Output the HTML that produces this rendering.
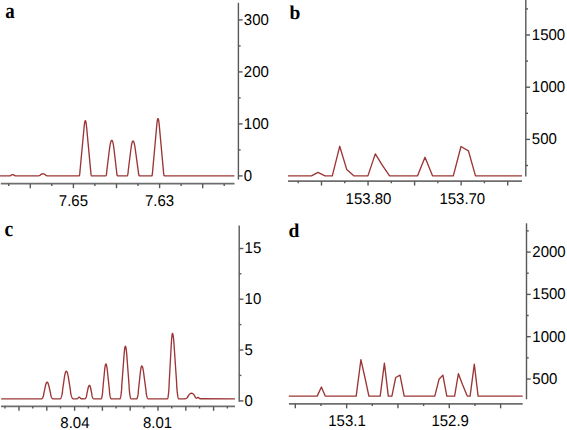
<!DOCTYPE html>
<html><head><meta charset="utf-8"><style>
html,body{margin:0;padding:0;background:#fff;}
body{width:567px;height:430px;overflow:hidden;}
svg{display:block;}
text{text-rendering:geometricPrecision;}
</style></head><body>
<svg width="567" height="430" viewBox="0 0 567 430">
<rect width="567" height="430" fill="#fff"/>
<text transform="translate(5.20,17.70) scale(0.97,1.12)" text-anchor="start" font-family="Liberation Serif" font-size="19.5" font-weight="bold" fill="#000">a</text>
<polyline points="0.00,175.85 9.40,175.85 10.00,175.78 10.60,175.61 10.80,175.53 11.00,175.30 11.60,174.94 12.00,174.77 12.40,174.67 12.80,174.65 13.20,174.71 13.60,174.84 14.40,175.30 14.60,175.53 15.20,175.74 15.80,175.84 38.00,175.85 38.60,175.80 39.20,175.66 39.80,175.44 40.20,175.24 40.40,174.89 41.20,174.31 41.80,173.98 42.40,173.80 43.00,173.75 43.60,173.84 44.20,174.05 44.80,174.38 45.60,174.94 45.80,175.27 46.40,175.53 47.00,175.72 47.60,175.82 79.20,175.85 79.40,175.58 79.60,174.77 79.80,173.40 80.00,171.03 84.00,128.22 84.20,126.15 84.40,124.39 84.60,122.96 84.80,121.87 85.00,121.11 85.20,120.69 85.40,120.61 85.60,120.86 85.80,121.45 86.00,122.37 86.20,123.63 86.40,125.22 86.60,127.15 90.80,172.10 91.00,174.15 91.20,175.24 91.40,175.78 91.60,175.85 105.60,175.85 105.80,175.84 106.00,175.63 106.20,175.14 106.40,174.36 106.60,173.30 106.80,170.94 109.20,151.28 109.40,149.66 109.60,148.17 109.80,146.80 110.00,145.57 110.20,144.46 110.40,143.49 110.60,142.64 110.80,141.93 111.00,141.34 111.20,140.89 111.40,140.56 111.60,140.37 111.80,140.30 112.00,140.37 112.20,140.59 112.40,140.95 112.60,141.46 112.80,142.11 113.00,142.91 113.20,143.86 113.40,144.94 113.60,146.18 113.80,147.56 114.00,149.08 114.20,150.75 116.60,171.52 116.80,173.78 117.00,174.76 117.20,175.43 117.40,175.79 117.60,175.85 127.00,175.85 127.20,175.85 127.40,175.65 127.60,175.15 127.80,174.36 128.00,173.26 128.20,171.01 130.80,150.04 131.00,148.47 131.20,147.05 131.40,145.78 131.60,144.66 131.80,143.69 132.00,142.87 132.20,142.20 132.40,141.67 132.60,141.30 132.80,141.07 133.00,141.00 133.20,141.06 133.40,141.25 133.60,141.56 133.80,142.00 134.00,142.56 134.20,143.25 134.40,144.07 134.60,145.00 134.80,146.07 135.00,147.26 135.20,148.57 138.40,172.16 138.60,173.99 138.80,174.83 139.00,175.42 139.20,175.76 139.40,175.85 151.80,175.85 152.00,175.69 152.20,174.99 152.40,173.72 152.60,171.41 156.60,127.05 156.80,124.86 157.00,122.95 157.20,121.38 157.40,120.16 157.60,119.30 157.80,118.77 158.00,118.60 158.20,118.77 158.40,119.27 158.60,120.11 158.80,121.29 159.00,122.80 159.20,124.65 163.40,170.40 163.60,172.92 163.80,174.44 164.00,175.41 164.20,175.83 234.40,175.85" fill="none" stroke="#9c3636" stroke-width="1.35" stroke-linejoin="round"/>
<line x1="0.80" y1="183.70" x2="234.50" y2="183.70" stroke="#6e6e6e" stroke-width="1.7"/>
<line x1="30.30" y1="183.70" x2="30.30" y2="188.20" stroke="#585858" stroke-width="1.4"/>
<line x1="73.40" y1="183.70" x2="73.40" y2="188.20" stroke="#585858" stroke-width="1.4"/>
<line x1="116.50" y1="183.70" x2="116.50" y2="188.20" stroke="#585858" stroke-width="1.4"/>
<line x1="159.60" y1="183.70" x2="159.60" y2="188.20" stroke="#585858" stroke-width="1.4"/>
<line x1="202.70" y1="183.70" x2="202.70" y2="188.20" stroke="#585858" stroke-width="1.4"/>
<line x1="8.70" y1="183.70" x2="8.70" y2="185.90" stroke="#585858" stroke-width="1.4"/>
<line x1="51.80" y1="183.70" x2="51.80" y2="185.90" stroke="#585858" stroke-width="1.4"/>
<line x1="94.90" y1="183.70" x2="94.90" y2="185.90" stroke="#585858" stroke-width="1.4"/>
<line x1="138.00" y1="183.70" x2="138.00" y2="185.90" stroke="#585858" stroke-width="1.4"/>
<line x1="181.10" y1="183.70" x2="181.10" y2="185.90" stroke="#585858" stroke-width="1.4"/>
<line x1="224.20" y1="183.70" x2="224.20" y2="185.90" stroke="#585858" stroke-width="1.4"/>
<text transform="translate(73.40,205.60) scale(0.96,1)" text-anchor="middle" font-family="Liberation Sans" font-size="15.6" font-weight="normal" fill="#000">7.65</text>
<text transform="translate(159.60,205.60) scale(0.96,1)" text-anchor="middle" font-family="Liberation Sans" font-size="15.6" font-weight="normal" fill="#000">7.63</text>
<line x1="238.40" y1="2.80" x2="238.40" y2="179.60" stroke="#585858" stroke-width="1.4"/>
<line x1="238.40" y1="175.90" x2="242.60" y2="175.90" stroke="#585858" stroke-width="1.4"/>
<line x1="238.40" y1="123.90" x2="242.60" y2="123.90" stroke="#585858" stroke-width="1.4"/>
<line x1="238.40" y1="71.90" x2="242.60" y2="71.90" stroke="#585858" stroke-width="1.4"/>
<line x1="238.40" y1="19.90" x2="242.60" y2="19.90" stroke="#585858" stroke-width="1.4"/>
<line x1="238.40" y1="149.90" x2="240.60" y2="149.90" stroke="#585858" stroke-width="1.4"/>
<line x1="238.40" y1="97.90" x2="240.60" y2="97.90" stroke="#585858" stroke-width="1.4"/>
<line x1="238.40" y1="45.90" x2="240.60" y2="45.90" stroke="#585858" stroke-width="1.4"/>
<text transform="translate(243.80,180.70) scale(0.96,1)" text-anchor="start" font-family="Liberation Sans" font-size="15.6" font-weight="normal" fill="#000">0</text>
<text transform="translate(243.80,128.70) scale(0.96,1)" text-anchor="start" font-family="Liberation Sans" font-size="15.6" font-weight="normal" fill="#000">100</text>
<text transform="translate(243.80,76.70) scale(0.96,1)" text-anchor="start" font-family="Liberation Sans" font-size="15.6" font-weight="normal" fill="#000">200</text>
<text transform="translate(243.80,24.70) scale(0.96,1)" text-anchor="start" font-family="Liberation Sans" font-size="15.6" font-weight="normal" fill="#000">300</text>
<text transform="translate(289.60,19.40) scale(1.0,1)" text-anchor="start" font-family="Liberation Serif" font-size="19.5" font-weight="bold" fill="#000">b</text>
<polyline points="288.00,175.85 311.50,175.85 318.00,172.40 325.00,175.85 332.30,175.85 339.70,146.30 346.70,169.40 353.80,175.85 367.90,175.85 375.30,153.90 382.40,165.40 389.60,175.85 417.60,175.85 425.00,157.30 432.50,175.85 453.30,175.85 461.00,146.50 468.40,150.80 475.50,175.85 522.00,175.85" fill="none" stroke="#9c3636" stroke-width="1.35" stroke-linejoin="round"/>
<line x1="288.00" y1="181.10" x2="522.00" y2="181.10" stroke="#6e6e6e" stroke-width="1.7"/>
<line x1="321.50" y1="181.10" x2="321.50" y2="185.60" stroke="#585858" stroke-width="1.4"/>
<line x1="368.05" y1="181.10" x2="368.05" y2="185.60" stroke="#585858" stroke-width="1.4"/>
<line x1="414.60" y1="181.10" x2="414.60" y2="185.60" stroke="#585858" stroke-width="1.4"/>
<line x1="461.15" y1="181.10" x2="461.15" y2="185.60" stroke="#585858" stroke-width="1.4"/>
<line x1="507.70" y1="181.10" x2="507.70" y2="185.60" stroke="#585858" stroke-width="1.4"/>
<line x1="298.20" y1="181.10" x2="298.20" y2="183.30" stroke="#585858" stroke-width="1.4"/>
<line x1="344.75" y1="181.10" x2="344.75" y2="183.30" stroke="#585858" stroke-width="1.4"/>
<line x1="391.30" y1="181.10" x2="391.30" y2="183.30" stroke="#585858" stroke-width="1.4"/>
<line x1="437.85" y1="181.10" x2="437.85" y2="183.30" stroke="#585858" stroke-width="1.4"/>
<line x1="484.40" y1="181.10" x2="484.40" y2="183.30" stroke="#585858" stroke-width="1.4"/>
<text transform="translate(368.50,204.20) scale(0.96,1)" text-anchor="middle" font-family="Liberation Sans" font-size="15.6" font-weight="normal" fill="#000">153.80</text>
<text transform="translate(462.30,204.20) scale(0.96,1)" text-anchor="middle" font-family="Liberation Sans" font-size="15.6" font-weight="normal" fill="#000">153.70</text>
<line x1="525.80" y1="0.00" x2="525.80" y2="176.60" stroke="#585858" stroke-width="1.4"/>
<line x1="525.80" y1="139.40" x2="530.00" y2="139.40" stroke="#585858" stroke-width="1.4"/>
<line x1="525.80" y1="87.20" x2="530.00" y2="87.20" stroke="#585858" stroke-width="1.4"/>
<line x1="525.80" y1="35.00" x2="530.00" y2="35.00" stroke="#585858" stroke-width="1.4"/>
<line x1="525.80" y1="165.50" x2="528.00" y2="165.50" stroke="#585858" stroke-width="1.4"/>
<line x1="525.80" y1="113.30" x2="528.00" y2="113.30" stroke="#585858" stroke-width="1.4"/>
<line x1="525.80" y1="61.10" x2="528.00" y2="61.10" stroke="#585858" stroke-width="1.4"/>
<line x1="525.80" y1="8.90" x2="528.00" y2="8.90" stroke="#585858" stroke-width="1.4"/>
<text transform="translate(531.80,144.20) scale(0.96,1)" text-anchor="start" font-family="Liberation Sans" font-size="15.6" font-weight="normal" fill="#000">500</text>
<text transform="translate(531.80,92.00) scale(0.96,1)" text-anchor="start" font-family="Liberation Sans" font-size="15.6" font-weight="normal" fill="#000">1000</text>
<text transform="translate(531.80,39.80) scale(0.96,1)" text-anchor="start" font-family="Liberation Sans" font-size="15.6" font-weight="normal" fill="#000">1500</text>
<text transform="translate(4.60,235.80) scale(1.0,1.12)" text-anchor="start" font-family="Liberation Serif" font-size="19.5" font-weight="bold" fill="#000">c</text>
<polyline points="1.20,398.80 41.60,398.80 41.80,398.77 42.00,398.66 42.20,398.49 42.40,398.25 42.60,397.94 42.80,397.57 43.00,397.12 43.20,396.60 43.40,396.02 43.60,395.37 43.80,393.61 45.40,386.07 45.60,385.21 45.80,384.46 46.00,383.82 46.20,383.29 46.40,382.86 46.60,382.53 46.80,382.32 47.00,382.21 47.20,382.21 47.40,382.31 47.60,382.49 47.80,382.78 48.00,383.15 48.20,383.62 48.40,384.18 48.60,384.84 48.80,385.59 50.60,393.50 50.80,395.25 51.00,395.87 51.20,396.43 51.40,396.94 51.60,397.38 51.80,397.76 52.00,398.09 52.20,398.35 52.40,398.55 52.60,398.69 52.80,398.78 60.00,398.80 60.20,398.78 60.40,398.66 60.60,398.47 60.80,398.18 61.00,397.80 61.20,397.34 61.40,396.79 61.60,396.15 61.80,395.42 62.00,394.60 62.20,393.70 62.40,392.70 62.60,389.83 64.20,378.79 64.40,377.43 64.60,376.19 64.80,375.08 65.00,374.12 65.20,373.29 65.40,372.60 65.60,372.05 65.80,371.63 66.00,371.36 66.20,371.22 66.40,371.21 66.60,371.33 66.80,371.56 67.00,371.90 67.20,372.35 67.40,372.93 67.60,373.61 67.80,374.41 68.00,375.32 68.20,376.35 68.40,377.49 70.40,390.02 70.60,392.75 70.80,393.65 71.00,394.48 71.20,395.24 71.40,395.93 71.60,396.54 71.80,397.08 72.00,397.54 72.20,397.93 72.40,398.25 72.60,398.50 72.80,398.67 73.00,398.77 76.80,398.80 77.20,398.75 77.60,398.57 77.80,398.44 78.00,398.09 78.40,397.62 78.60,397.44 78.80,397.31 79.00,397.23 79.20,397.20 79.40,397.23 79.60,397.31 79.80,397.44 80.20,397.85 80.40,398.09 80.60,398.44 81.00,398.68 81.40,398.79 84.80,398.80 85.00,398.79 85.20,398.71 85.40,398.54 85.60,398.29 85.80,397.96 86.00,397.55 86.20,397.05 86.40,396.47 86.60,395.81 86.80,394.15 88.00,388.57 88.20,387.73 88.40,387.02 88.60,386.43 88.80,385.98 89.00,385.66 89.20,385.46 89.40,385.40 89.60,385.47 89.80,385.69 90.00,386.05 90.20,386.56 90.40,387.21 90.60,388.01 91.80,393.87 92.00,395.64 92.20,396.36 92.40,396.99 92.60,397.52 92.80,397.96 93.00,398.31 93.20,398.57 93.40,398.73 93.60,398.80 101.00,398.80 101.20,398.77 101.40,398.56 101.60,398.12 101.80,397.47 102.00,396.60 102.20,395.51 102.40,394.21 102.60,392.68 102.80,389.31 104.40,372.44 104.60,370.36 104.80,368.56 105.00,367.05 105.20,365.85 105.40,364.94 105.60,364.34 105.80,364.04 106.00,364.03 106.20,364.28 106.40,364.78 106.60,365.53 106.80,366.52 107.00,367.77 107.20,369.26 107.40,371.00 109.40,390.17 109.60,393.19 109.80,394.52 110.00,395.67 110.20,396.64 110.40,397.43 110.60,398.04 110.80,398.48 111.00,398.73 111.20,398.80 119.80,398.80 120.00,398.76 120.20,398.48 120.40,397.96 120.60,397.19 120.80,396.17 121.00,394.90 121.20,393.39 121.40,391.62 121.60,389.61 121.80,385.35 124.00,355.75 124.20,353.22 124.40,351.07 124.60,349.32 124.80,347.95 125.00,346.98 125.20,346.39 125.40,346.20 125.60,346.39 125.80,346.95 126.00,347.88 126.20,349.19 126.40,350.87 126.60,352.92 126.80,355.35 129.00,384.32 129.20,388.72 129.40,390.79 129.60,392.63 129.80,394.22 130.00,395.58 130.20,396.70 130.40,397.58 130.60,398.22 130.80,398.63 131.00,398.80 136.60,398.80 136.80,398.74 137.00,398.51 137.20,398.10 137.40,397.52 137.60,396.76 137.80,395.82 138.00,394.70 138.20,393.40 138.40,390.48 140.20,373.84 140.40,372.02 140.60,370.42 140.80,369.07 141.00,367.97 141.20,367.11 141.40,366.49 141.60,366.12 141.80,366.00 142.00,366.08 142.20,366.32 142.40,366.73 142.60,367.29 142.80,368.02 143.00,368.91 143.20,369.96 143.40,371.18 143.60,372.55 146.00,390.55 146.20,393.19 146.40,394.28 146.60,395.25 146.80,396.10 147.00,396.84 147.20,397.45 147.40,397.96 147.60,398.34 147.80,398.61 148.00,398.76 167.40,398.80 167.60,398.71 167.80,398.26 168.00,397.45 168.20,396.26 168.40,394.71 168.60,392.78 168.80,390.48 169.00,387.81 169.20,382.31 171.20,345.67 171.40,342.20 171.60,339.29 171.80,336.96 172.00,335.22 172.20,334.05 172.40,333.47 172.60,333.45 172.80,333.83 173.00,334.59 173.20,335.72 173.40,337.24 173.60,339.14 173.80,341.41 174.00,344.07 176.60,382.52 176.80,387.42 177.00,389.65 177.20,391.63 177.40,393.37 177.60,394.87 177.80,396.13 178.00,397.14 178.20,397.92 178.40,398.45 178.60,398.74 178.80,398.80 184.40,398.80 185.00,398.75 185.60,398.60 186.20,398.33 186.80,397.95 187.40,397.46 187.60,397.27 187.80,396.49 189.00,394.87 189.40,394.39 189.80,394.00 190.20,393.68 190.60,393.45 191.00,393.29 191.40,393.21 191.80,393.21 192.20,393.31 192.60,393.50 193.00,393.79 193.40,394.17 193.80,394.65 195.00,396.41 195.20,397.23 195.80,397.81 196.20,398.11 196.40,398.20 196.60,398.22 196.80,398.19 197.40,397.66 197.60,397.51 197.80,397.42 198.00,397.40 198.20,397.43 198.40,397.51 198.80,397.83 199.20,398.22 199.40,398.48 199.80,398.69 200.20,398.79 235.00,398.80" fill="none" stroke="#9c3636" stroke-width="1.35" stroke-linejoin="round"/>
<line x1="1.00" y1="406.30" x2="235.00" y2="406.30" stroke="#6e6e6e" stroke-width="1.7"/>
<line x1="19.00" y1="406.30" x2="19.00" y2="410.80" stroke="#585858" stroke-width="1.4"/>
<line x1="46.80" y1="406.30" x2="46.80" y2="410.80" stroke="#585858" stroke-width="1.4"/>
<line x1="74.60" y1="406.30" x2="74.60" y2="410.80" stroke="#585858" stroke-width="1.4"/>
<line x1="102.40" y1="406.30" x2="102.40" y2="410.80" stroke="#585858" stroke-width="1.4"/>
<line x1="130.20" y1="406.30" x2="130.20" y2="410.80" stroke="#585858" stroke-width="1.4"/>
<line x1="158.00" y1="406.30" x2="158.00" y2="410.80" stroke="#585858" stroke-width="1.4"/>
<line x1="185.80" y1="406.30" x2="185.80" y2="410.80" stroke="#585858" stroke-width="1.4"/>
<line x1="213.60" y1="406.30" x2="213.60" y2="410.80" stroke="#585858" stroke-width="1.4"/>
<line x1="4.95" y1="406.30" x2="4.95" y2="408.50" stroke="#585858" stroke-width="1.4"/>
<line x1="32.75" y1="406.30" x2="32.75" y2="408.50" stroke="#585858" stroke-width="1.4"/>
<line x1="60.55" y1="406.30" x2="60.55" y2="408.50" stroke="#585858" stroke-width="1.4"/>
<line x1="88.35" y1="406.30" x2="88.35" y2="408.50" stroke="#585858" stroke-width="1.4"/>
<line x1="116.15" y1="406.30" x2="116.15" y2="408.50" stroke="#585858" stroke-width="1.4"/>
<line x1="143.95" y1="406.30" x2="143.95" y2="408.50" stroke="#585858" stroke-width="1.4"/>
<line x1="171.75" y1="406.30" x2="171.75" y2="408.50" stroke="#585858" stroke-width="1.4"/>
<line x1="199.55" y1="406.30" x2="199.55" y2="408.50" stroke="#585858" stroke-width="1.4"/>
<line x1="227.35" y1="406.30" x2="227.35" y2="408.50" stroke="#585858" stroke-width="1.4"/>
<text transform="translate(74.90,428.40) scale(0.96,1)" text-anchor="middle" font-family="Liberation Sans" font-size="15.6" font-weight="normal" fill="#000">8.04</text>
<text transform="translate(157.60,428.40) scale(0.96,1)" text-anchor="middle" font-family="Liberation Sans" font-size="15.6" font-weight="normal" fill="#000">8.01</text>
<line x1="239.20" y1="225.60" x2="239.20" y2="401.70" stroke="#585858" stroke-width="1.4"/>
<line x1="239.20" y1="400.90" x2="243.40" y2="400.90" stroke="#585858" stroke-width="1.4"/>
<line x1="239.20" y1="350.00" x2="243.40" y2="350.00" stroke="#585858" stroke-width="1.4"/>
<line x1="239.20" y1="299.20" x2="243.40" y2="299.20" stroke="#585858" stroke-width="1.4"/>
<line x1="239.20" y1="248.50" x2="243.40" y2="248.50" stroke="#585858" stroke-width="1.4"/>
<line x1="239.20" y1="375.40" x2="241.40" y2="375.40" stroke="#585858" stroke-width="1.4"/>
<line x1="239.20" y1="324.60" x2="241.40" y2="324.60" stroke="#585858" stroke-width="1.4"/>
<line x1="239.20" y1="273.80" x2="241.40" y2="273.80" stroke="#585858" stroke-width="1.4"/>
<text transform="translate(244.60,405.70) scale(0.96,1)" text-anchor="start" font-family="Liberation Sans" font-size="15.6" font-weight="normal" fill="#000">0</text>
<text transform="translate(244.60,354.80) scale(0.96,1)" text-anchor="start" font-family="Liberation Sans" font-size="15.6" font-weight="normal" fill="#000">5</text>
<text transform="translate(244.60,304.00) scale(0.96,1)" text-anchor="start" font-family="Liberation Sans" font-size="15.6" font-weight="normal" fill="#000">10</text>
<text transform="translate(244.60,253.30) scale(0.96,1)" text-anchor="start" font-family="Liberation Sans" font-size="15.6" font-weight="normal" fill="#000">15</text>
<text transform="translate(288.40,236.60) scale(1.0,1)" text-anchor="start" font-family="Liberation Serif" font-size="19.5" font-weight="bold" fill="#000">d</text>
<polyline points="288.80,396.10 317.20,396.10 321.40,387.00 325.20,396.10 356.20,396.10 360.90,359.60 364.70,376.50 368.90,396.10 380.20,396.10 384.40,363.10 388.30,396.10 391.90,396.10 395.70,377.50 400.00,375.10 404.20,396.10 434.80,396.10 439.00,379.30 442.90,375.10 446.80,396.10 454.60,396.10 458.40,373.70 462.50,384.50 466.60,394.40 467.30,396.10 470.10,396.10 474.30,364.10 478.10,396.10 522.70,396.10" fill="none" stroke="#9c3636" stroke-width="1.35" stroke-linejoin="round"/>
<line x1="289.00" y1="403.85" x2="522.70" y2="403.85" stroke="#6e6e6e" stroke-width="1.7"/>
<line x1="295.30" y1="403.85" x2="295.30" y2="408.35" stroke="#585858" stroke-width="1.4"/>
<line x1="346.63" y1="403.85" x2="346.63" y2="408.35" stroke="#585858" stroke-width="1.4"/>
<line x1="397.96" y1="403.85" x2="397.96" y2="408.35" stroke="#585858" stroke-width="1.4"/>
<line x1="449.29" y1="403.85" x2="449.29" y2="408.35" stroke="#585858" stroke-width="1.4"/>
<line x1="500.62" y1="403.85" x2="500.62" y2="408.35" stroke="#585858" stroke-width="1.4"/>
<line x1="320.95" y1="403.85" x2="320.95" y2="406.05" stroke="#585858" stroke-width="1.4"/>
<line x1="372.28" y1="403.85" x2="372.28" y2="406.05" stroke="#585858" stroke-width="1.4"/>
<line x1="423.61" y1="403.85" x2="423.61" y2="406.05" stroke="#585858" stroke-width="1.4"/>
<line x1="474.94" y1="403.85" x2="474.94" y2="406.05" stroke="#585858" stroke-width="1.4"/>
<text transform="translate(347.00,426.20) scale(0.96,1)" text-anchor="middle" font-family="Liberation Sans" font-size="15.6" font-weight="normal" fill="#000">153.1</text>
<text transform="translate(450.20,426.20) scale(0.96,1)" text-anchor="middle" font-family="Liberation Sans" font-size="15.6" font-weight="normal" fill="#000">152.9</text>
<line x1="526.50" y1="223.30" x2="526.50" y2="399.30" stroke="#585858" stroke-width="1.4"/>
<line x1="526.50" y1="379.00" x2="530.70" y2="379.00" stroke="#585858" stroke-width="1.4"/>
<line x1="526.50" y1="336.70" x2="530.70" y2="336.70" stroke="#585858" stroke-width="1.4"/>
<line x1="526.50" y1="294.40" x2="530.70" y2="294.40" stroke="#585858" stroke-width="1.4"/>
<line x1="526.50" y1="252.10" x2="530.70" y2="252.10" stroke="#585858" stroke-width="1.4"/>
<line x1="526.50" y1="357.80" x2="528.70" y2="357.80" stroke="#585858" stroke-width="1.4"/>
<line x1="526.50" y1="315.50" x2="528.70" y2="315.50" stroke="#585858" stroke-width="1.4"/>
<line x1="526.50" y1="273.20" x2="528.70" y2="273.20" stroke="#585858" stroke-width="1.4"/>
<line x1="526.50" y1="230.90" x2="528.70" y2="230.90" stroke="#585858" stroke-width="1.4"/>
<text transform="translate(532.30,383.80) scale(0.96,1)" text-anchor="start" font-family="Liberation Sans" font-size="15.6" font-weight="normal" fill="#000">500</text>
<text transform="translate(532.30,341.50) scale(0.96,1)" text-anchor="start" font-family="Liberation Sans" font-size="15.6" font-weight="normal" fill="#000">1000</text>
<text transform="translate(532.30,299.20) scale(0.96,1)" text-anchor="start" font-family="Liberation Sans" font-size="15.6" font-weight="normal" fill="#000">1500</text>
<text transform="translate(532.30,256.90) scale(0.96,1)" text-anchor="start" font-family="Liberation Sans" font-size="15.6" font-weight="normal" fill="#000">2000</text>
</svg>
</body></html>
